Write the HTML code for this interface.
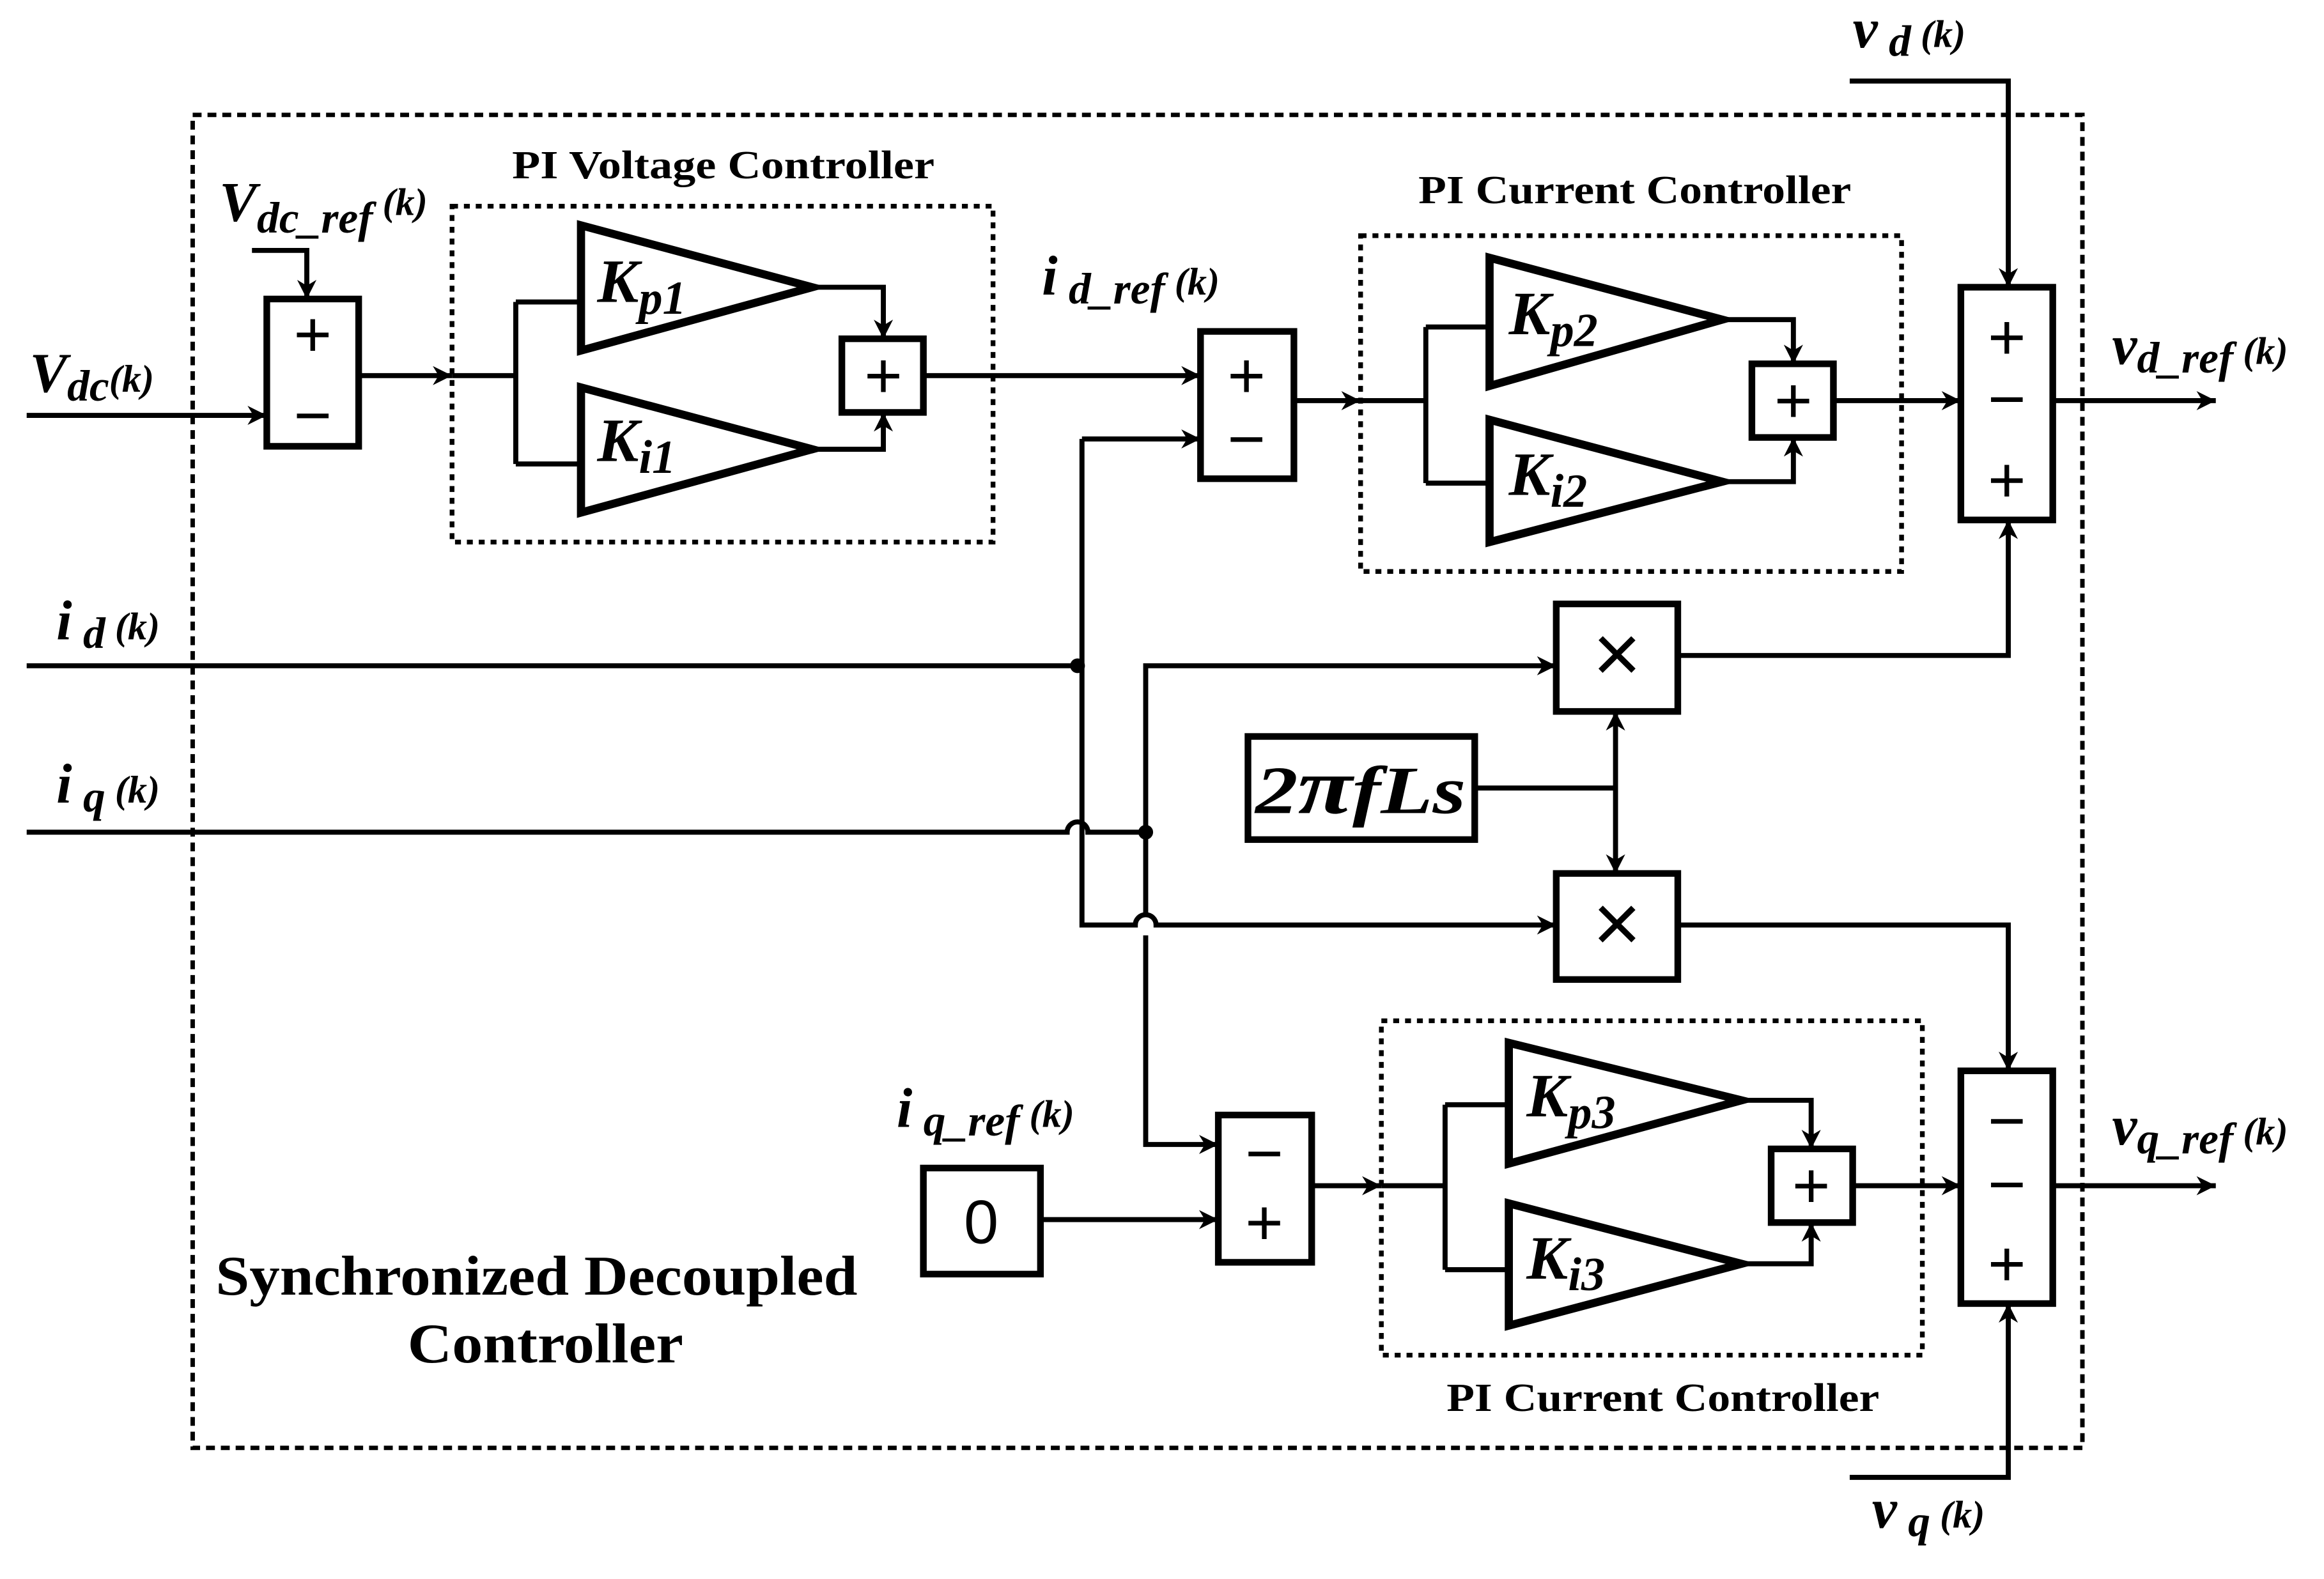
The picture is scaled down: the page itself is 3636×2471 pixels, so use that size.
<!DOCTYPE html>
<html><head><meta charset="utf-8"><style>
html,body{margin:0;padding:0;background:#fff;}
svg{display:block;}
text{font-family:"Liberation Serif",serif;font-weight:bold;fill:#000;}
.l{stroke:#000;stroke-width:3.4;fill:none;}
.b{stroke:#000;stroke-width:4.5;fill:#fff;}
.t{stroke:#000;stroke-width:5.5;fill:#fff;stroke-linejoin:miter;}
.d{stroke:#000;stroke-width:3;fill:none;stroke-dasharray:6 4;}
.o{stroke:#000;stroke-width:3.2;fill:none;stroke-dasharray:4 4;}
.it{font-style:italic;}
.sym{font-family:"Liberation Sans",sans-serif;font-weight:normal;}
</style></head><body>
<svg width="3636" height="2471" viewBox="0 0 1568 1072" preserveAspectRatio="none" xmlns="http://www.w3.org/2000/svg">
<defs>
<marker id="m" viewBox="0 0 10 10" refX="10" refY="5" markerWidth="17" markerHeight="13" orient="auto-start-reverse" markerUnits="userSpaceOnUse"><path d="M0,0 L10,5 L0,10 L3,5 Z" fill="#000"/></marker></defs>
<rect x="130" y="78" width="1275" height="905" class="d"/>
<rect x="305" y="140" width="365" height="228" class="o"/>
<rect x="918" y="160" width="365" height="228" class="o"/>
<rect x="932" y="693" width="365" height="227" class="o"/>
<text x="488" y="121" font-size="27" text-anchor="middle" textLength="285" lengthAdjust="spacingAndGlyphs">PI Voltage Controller</text>
<text x="1103" y="138" font-size="27" text-anchor="middle" textLength="292" lengthAdjust="spacingAndGlyphs">PI Current Controller</text>
<text x="1122" y="958" font-size="27" text-anchor="middle" textLength="292" lengthAdjust="spacingAndGlyphs">PI Current Controller</text>
<text x="362" y="879" font-size="38" text-anchor="middle" textLength="433" lengthAdjust="spacingAndGlyphs">Synchronized Decoupled</text>
<text x="368" y="925" font-size="38" text-anchor="middle" textLength="186" lengthAdjust="spacingAndGlyphs">Controller</text>
<g class="l">
<path d="M18,282 H180" marker-end="url(#m)"/>
<path d="M170,170 H207 V203" marker-end="url(#m)"/>
<path d="M242,255 H305" marker-end="url(#m)"/>
<path d="M305,255 H348 M348,205 V315 M348,205 H392 M348,315 H392"/>
<path d="M548,195 H596 V230" marker-end="url(#m)"/>
<path d="M548,305 H596 V280" marker-end="url(#m)"/>
<path d="M623,255 H810" marker-end="url(#m)"/>
<path d="M730,298 H810" marker-end="url(#m)"/>
<path d="M873,272 H918" marker-end="url(#m)"/>
<path d="M918,272 H962 M962,222 V328 M962,222 H1005 M962,328 H1005"/>
<path d="M1162,217 H1210 V247" marker-end="url(#m)"/>
<path d="M1162,327 H1210 V297" marker-end="url(#m)"/>
<path d="M1237,272 H1323" marker-end="url(#m)"/>
<path d="M1248,55 H1355 V195" marker-end="url(#m)"/>
<path d="M1385,272 H1495" marker-end="url(#m)"/>
<path d="M18,452 H727"/>
<path d="M18,565 H720 A7,7 0 0 1 734,565 H773"/>
<path d="M730,298 V628 H766 A7,7 0 0 1 780,628 H1050" marker-end="url(#m)"/>
<path d="M773,565 V452 H1050" marker-end="url(#m)"/>
<path d="M773,565 V621 M773,635 V777 H822" marker-end="url(#m)"/>
<path d="M1132,445 H1355 V353" marker-end="url(#m)"/>
<path d="M995,535 H1090"/>
<path d="M1090,483 V593" marker-start="url(#m)" marker-end="url(#m)"/>
<path d="M1132,628 H1355 V727" marker-end="url(#m)"/>
<path d="M702,828 H822" marker-end="url(#m)"/>
<path d="M885,805 H932" marker-end="url(#m)"/>
<path d="M932,805 H975 M975,750 V862 M975,750 H1018 M975,862 H1018"/>
<path d="M1175,747 H1222 V780" marker-end="url(#m)"/>
<path d="M1175,858 H1222 V830" marker-end="url(#m)"/>
<path d="M1250,805 H1323" marker-end="url(#m)"/>
<path d="M1385,805 H1495" marker-end="url(#m)"/>
<path d="M1248,1003 H1355 V885" marker-end="url(#m)"/>
</g>
<circle cx="727" cy="452" r="5"/><circle cx="773" cy="565" r="5"/>
<rect x="180" y="203" width="62" height="100" class="b"/>
<text x="211" y="242" font-size="44" text-anchor="middle" class="sym">+</text>
<text x="211" y="297" font-size="44" text-anchor="middle" class="sym">−</text>
<polygon points="392,153 392,238 548,195" class="t"/>
<polygon points="392,263 392,348 548,305" class="t"/>
<text x="403" y="205" font-size="42" class="it">K<tspan font-size="32" dy="8">p1</tspan></text>
<text x="403" y="313" font-size="42" class="it">K<tspan font-size="32" dy="8">i1</tspan></text>
<rect x="568" y="230" width="55" height="50" class="b"/>
<text x="596" y="270" font-size="44" text-anchor="middle" class="sym">+</text>
<rect x="810" y="225" width="63" height="100" class="b"/>
<text x="841" y="270" font-size="44" text-anchor="middle" class="sym">+</text>
<text x="841" y="313" font-size="44" text-anchor="middle" class="sym">−</text>
<polygon points="1005,175 1005,262 1162,217" class="t"/>
<polygon points="1005,285 1005,368 1162,327" class="t"/>
<text x="1018" y="227" font-size="42" class="it">K<tspan font-size="32" dy="8">p2</tspan></text>
<text x="1018" y="336" font-size="42" class="it">K<tspan font-size="32" dy="8">i2</tspan></text>
<rect x="1182" y="247" width="55" height="50" class="b"/>
<text x="1210" y="287" font-size="44" text-anchor="middle" class="sym">+</text>
<rect x="1323" y="195" width="62" height="158" class="b"/>
<text x="1354" y="244" font-size="44" text-anchor="middle" class="sym">+</text>
<text x="1354" y="286" font-size="44" text-anchor="middle" class="sym">−</text>
<text x="1354" y="341" font-size="44" text-anchor="middle" class="sym">+</text>
<rect x="1050" y="410" width="82" height="73" class="b"/>
<text x="1091" y="463" font-size="56" text-anchor="middle" class="sym">×</text>
<rect x="1050" y="593" width="82" height="72" class="b"/>
<text x="1091" y="646" font-size="56" text-anchor="middle" class="sym">×</text>
<rect x="842" y="500" width="153" height="70" class="b"/>
<text x="918" y="552" font-size="46" text-anchor="middle" class="it" textLength="142" lengthAdjust="spacingAndGlyphs">2<tspan font-size="54">π</tspan>fLs</text>
<rect x="623" y="793" width="79" height="72" class="b"/>
<text x="662" y="844" font-size="42" text-anchor="middle" class="sym">0</text>
<rect x="822" y="757" width="63" height="100" class="b"/>
<text x="853" y="798" font-size="44" text-anchor="middle" class="sym">−</text>
<text x="853" y="845" font-size="44" text-anchor="middle" class="sym">+</text>
<polygon points="1018,708 1018,790 1175,747" class="t"/>
<polygon points="1018,817 1018,900 1175,858" class="t"/>
<text x="1030" y="758" font-size="42" class="it">K<tspan font-size="32" dy="8">p3</tspan></text>
<text x="1030" y="868" font-size="42" class="it">K<tspan font-size="32" dy="8">i3</tspan></text>
<rect x="1195" y="780" width="55" height="50" class="b"/>
<text x="1222" y="820" font-size="44" text-anchor="middle" class="sym">+</text>
<rect x="1323" y="727" width="62" height="158" class="b"/>
<text x="1354" y="776" font-size="44" text-anchor="middle" class="sym">−</text>
<text x="1354" y="819" font-size="44" text-anchor="middle" class="sym">−</text>
<text x="1354" y="873" font-size="44" text-anchor="middle" class="sym">+</text>
<text x="148" y="150" font-size="38" class="it">V<tspan font-size="30" dy="8">dc_ref</tspan><tspan font-size="26" dy="-12"> (k)</tspan></text>
<text x="20" y="266" font-size="38" class="it">V<tspan font-size="30" dy="6">dc</tspan><tspan font-size="26" dy="-6">(k)</tspan></text>
<text x="703" y="200" font-size="38" class="it">i<tspan font-size="30" dy="6"> d_ref</tspan><tspan font-size="26" dy="-6"> (k)</tspan></text>
<text x="1250" y="32" font-size="38" class="it">v<tspan font-size="30" dy="6"> d</tspan><tspan font-size="26" dy="-6"> (k)</tspan></text>
<text x="1425" y="247" font-size="38" class="it">v<tspan font-size="30" dy="6">d_ref</tspan><tspan font-size="26" dy="-6"> (k)</tspan></text>
<text x="38" y="434" font-size="38" class="it">i<tspan font-size="30" dy="6"> d</tspan><tspan font-size="26" dy="-6"> (k)</tspan></text>
<text x="38" y="545" font-size="38" class="it">i<tspan font-size="30" dy="6"> q</tspan><tspan font-size="26" dy="-6"> (k)</tspan></text>
<text x="605" y="765" font-size="38" class="it">i<tspan font-size="30" dy="6"> q_ref</tspan><tspan font-size="26" dy="-6"> (k)</tspan></text>
<text x="1425" y="777" font-size="38" class="it">v<tspan font-size="30" dy="6">q_ref</tspan><tspan font-size="26" dy="-6"> (k)</tspan></text>
<text x="1263" y="1037" font-size="38" class="it">v<tspan font-size="30" dy="6"> q</tspan><tspan font-size="26" dy="-6"> (k)</tspan></text>
</svg>
</body></html>
